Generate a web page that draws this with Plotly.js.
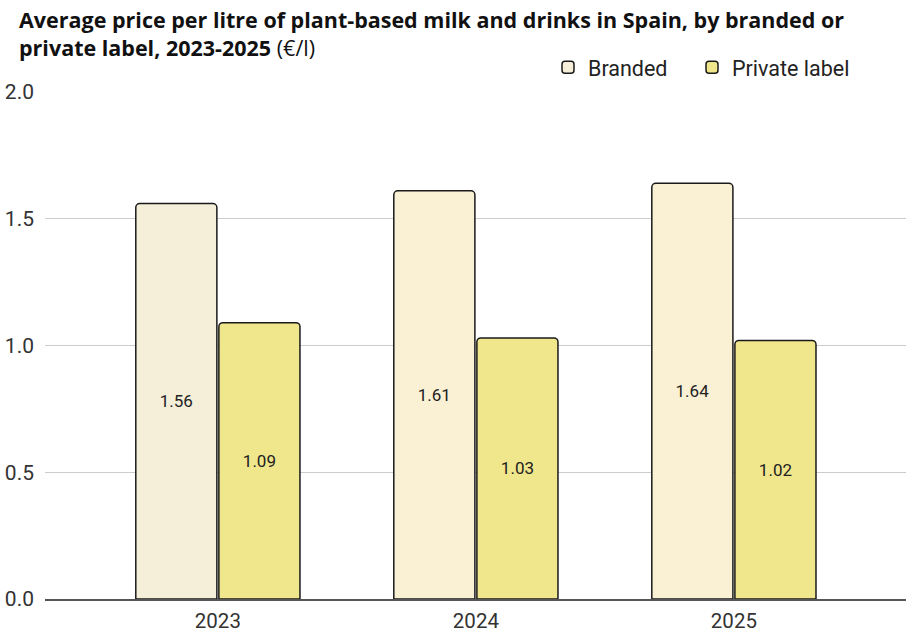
<!DOCTYPE html>
<html>
<head>
<meta charset="utf-8">
<script src="https://cdn.plot.ly/plotly-3.0.1.min.js"></script>
<style>html,body{margin:0;padding:0;background:#fff;}#chart{width:906px;height:632px;}</style>
</head>
<body>
<div id="chart"></div>
<script>
const years = ['2023', '2024', '2025'];
const branded = [1.56, 1.61, 1.64];
const privateLabel = [1.09, 1.03, 1.02];
const yTicks = [0, 0.5, 1.0, 1.5, 2.0];
const yTickLabels = ['0.0', '0.5', '1.0', '1.5', '2.0'];

const font = 'Roboto, "Noto Sans", sans-serif';
const titleFont = '"Open Sans", Roboto, sans-serif';
const traces = [
  {
    type: 'bar', name: 'Branded', x: years, y: branded, legend: 'legend',
    text: branded.map(v => v.toFixed(2)), textposition: 'inside', insidetextanchor: 'middle',
    textfont: {family: font, size: 17, color: '#222'},
    marker: {color: ['#F5EFDA', '#FAF1D4', '#FAF1D4'], line: {color: '#1a1a1a', width: 1.5}},
    hoverinfo: 'none'
  },
  {
    type: 'bar', name: 'Private label', x: years, y: privateLabel, legend: 'legend2',
    text: privateLabel.map(v => v.toFixed(2)), textposition: 'inside', insidetextanchor: 'middle',
    textfont: {family: font, size: 17, color: '#222'},
    marker: {color: '#F0E68C', line: {color: '#1a1a1a', width: 1.5}},
    hoverinfo: 'none'
  }
];

const legendBase = {
  orientation: 'h', xanchor: 'left', y: 1.049, yanchor: 'middle',
  font: {family: font, size: 21.5, color: '#222'}, bgcolor: 'rgba(0,0,0,0)'
};

const layout = {
  width: 906, height: 632,
  margin: {l: 45, r: 0, t: 92, b: 33},
  paper_bgcolor: '#fff', plot_bgcolor: '#fff',
  font: {family: font, color: '#333'},
  annotations: [{
    text: '<b>Average price per litre of plant-based milk and drinks in Spain, by branded or<br>private label, 2023-2025</b> (€/l)',
    font: {family: titleFont, size: 21.5, color: '#111'},
    xref: 'paper', yref: 'paper', x: (17 - 45) / 861, y: (599 - 2.5) / 507,
    xanchor: 'left', yanchor: 'top', align: 'left', showarrow: false
  }],
  barmode: 'group', bargap: 0.356, bargroupgap: 0.024, barcornerradius: 4,
  xaxis: {
    type: 'category', range: [-0.67, 2.667],
    showgrid: false, showline: true, linecolor: '#555', linewidth: 2,
    ticks: '', tickfont: {family: font, size: 20.5, color: '#333'}, ticklabelstandoff: 2,
    zeroline: false
  },
  yaxis: {
    range: [0, 2.0], tickvals: yTicks, ticktext: yTickLabels,
    showgrid: true, gridcolor: '#cccccc', gridwidth: 1,
    zeroline: false, showline: false, ticks: '', ticklabelstandoff: 10,
    tickfont: {family: font, size: 21, color: '#333'}
  },
  showlegend: true,
  legend: Object.assign({}, legendBase, {x: (548 - 45) / 861}),
  legend2: Object.assign({}, legendBase, {x: (548 + 144 - 45) / 861})
};

Plotly.newPlot('chart', traces, layout, {displayModeBar: false, staticPlot: true});
</script>
</body>
</html>
